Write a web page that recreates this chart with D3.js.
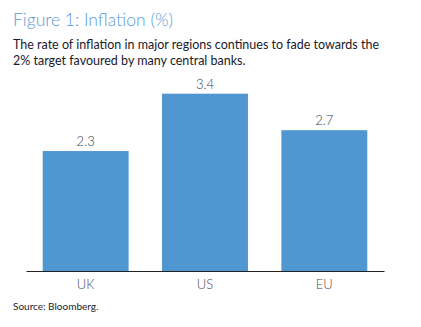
<!DOCTYPE html>
<html><head><meta charset="utf-8">
<script src="https://cdn.jsdelivr.net/npm/d3@7"></script>
<style>body{margin:0;background:#fff;} svg{display:block;}</style>
</head><body>
<script>
const categories = ["UK", "US", "EU"];
const values = [2.3, 3.4, 2.7];
const valueLabels = ["2.3", "3.4", "2.7"];

const W = 421, H = 327;
const FONT = "Lato, 'Open Sans', sans-serif";
const svg = d3.select("body").append("svg").attr("width", W).attr("height", H)
  .style("font-family", FONT);

svg.append("text").attr("x", 13).attr("y", 26).attr("fill", "#5b9bd5")
  .attr("font-size", 17.5).attr("font-weight", 300).text("Figure 1: Inflation (%)");
svg.append("text").attr("x", 13).attr("y", 49).attr("fill", "#1a1a2a")
  .attr("font-size", 12.5).text("The rate of inflation in major regions continues to fade towards the");
svg.append("text").attr("x", 13).attr("y", 65).attr("fill", "#1a1a2a")
  .attr("font-size", 12.5).text("2% target favoured by many central banks.");
svg.append("text").attr("x", 13).attr("y", 310).attr("fill", "#1a1a2a")
  .attr("font-size", 10).text("Source: Bloomberg.");

const x = d3.scaleBand().domain(categories).range([26, 384]).paddingInner(0.28).paddingOuter(0.14);
const y = d3.scaleLinear().domain([0, 4]).range([271, 62.4]);

svg.selectAll("rect.bar").data(categories).join("rect").attr("class", "bar")
  .attr("x", d => x(d)).attr("width", x.bandwidth())
  .attr("y", (d, i) => y(values[i])).attr("height", (d, i) => y(0) - y(values[i]))
  .attr("fill", "#5096d0");

svg.selectAll("text.val").data(categories).join("text").attr("class", "val")
  .attr("x", d => x(d) + x.bandwidth() / 2).attr("y", (d, i) => y(values[i]) - 5)
  .attr("text-anchor", "middle").attr("font-size", 13).attr("font-weight", 300).attr("fill", "#3a3a4a")
  .text((d, i) => valueLabels[i]);

const axis = svg.append("g").attr("transform", `translate(0,${y(0)})`)
  .call(d3.axisBottom(x).tickSize(0).tickPadding(9));
axis.select(".domain").attr("stroke", "#222").attr("stroke-width", 1.2);
axis.selectAll("text").attr("font-size", 13).attr("font-weight", 300).attr("fill", "#4a4a5a")
  .style("font-family", FONT);
</script>
</body></html>
